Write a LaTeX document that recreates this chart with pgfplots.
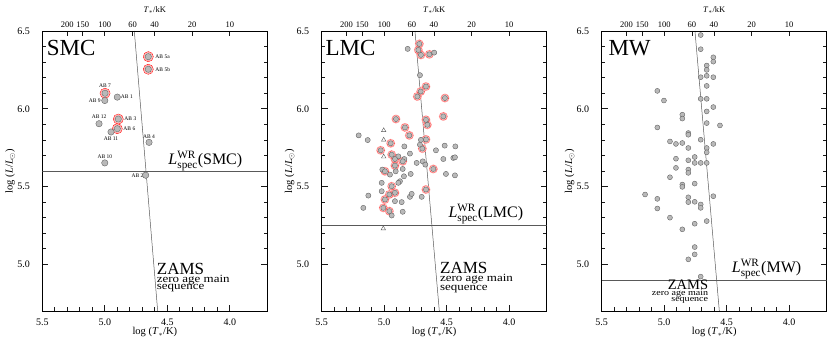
\documentclass[border=0pt]{standalone}
\usepackage{fontspec}
\setmainfont{Liberation Serif}
\usepackage{amsmath}
\usepackage{pgfplots}
\pgfplotsset{compat=1.18}
\usepackage{pgfplotstable}
\definecolor{tk}{RGB}{25,25,25}

% SMC stars (log T, log L)
\pgfplotstableread{
x y
4.652 6.335
4.652 6.254
4.998 6.100
5.000 6.053
4.900 6.075
4.892 5.934
5.046 5.904
4.900 5.872
4.950 5.851
4.646 5.784
5.000 5.652
4.673 5.573
}\smc
\pgfplotstableread{
x y
4.652 6.335
4.652 6.254
4.998 6.100
4.892 5.934
4.900 5.872
}\smcred

% LMC
\pgfplotstableread{
x y
4.812 6.385
4.600 6.361
4.714 6.216
5.204 5.829
5.132 5.799
4.839 5.758
4.706 5.800
4.714 5.769
4.586 5.733
4.516 5.763
4.431 5.758
4.887 5.694
4.839 5.677
4.794 5.712
4.740 5.652
4.692 5.662
4.671 5.641
4.527 5.677
4.447 5.684
4.434 5.688
4.852 5.613
5.015 5.609
4.954 5.577
4.908 5.598
4.842 5.566
4.788 5.581
4.506 5.581
4.434 5.572
5.020 5.524
4.874 5.534
4.887 5.524
5.020 5.470
5.127 5.442
4.794 5.434
4.780 5.453
4.700 5.434
4.914 5.406
4.860 5.400
5.167 5.363
4.852 5.338
4.940 5.314
}\lmcgray
\pgfplotstableread{
x y
4.719 6.417
4.727 6.378
4.706 6.346
4.639 6.350
4.666 6.143
4.708 6.111
4.735 6.079
4.514 6.069
4.906 5.934
4.666 5.929
4.655 5.897
4.527 5.951
4.834 5.880
4.799 5.829
4.948 5.778
4.666 5.803
4.695 5.744
5.028 5.733
4.940 5.705
4.914 5.677
4.852 5.662
4.607 5.613
4.914 5.635
4.994 5.598
4.940 5.502
4.959 5.449
4.914 5.460
4.666 5.481
4.994 5.417
5.007 5.363
4.959 5.342
}\lmcred
\pgfplotstableread{
x y
5.004 5.861
5.004 5.800
5.004 5.692
5.007 5.230
}\lmctri

% MW
\pgfplotstableread{
x y
4.708 6.474
4.708 6.383
4.607 6.331
4.607 6.303
4.660 6.278
4.660 6.250
4.708 6.203
4.660 6.212
4.607 6.203
4.660 6.147
5.055 6.115
5.002 6.053
4.708 6.064
4.660 6.064
4.607 6.011
4.660 5.983
4.855 5.962
4.855 5.937
4.660 5.908
4.554 5.893
5.055 5.880
4.807 5.844
4.807 5.833
4.708 5.801
4.954 5.790
4.906 5.774
4.855 5.780
4.607 5.774
4.807 5.748
4.660 5.748
4.660 5.720
4.756 5.690
4.906 5.679
4.807 5.669
4.756 5.652
4.708 5.652
4.660 5.652
4.906 5.620
4.807 5.609
4.807 5.588
4.954 5.560
4.756 5.519
4.855 5.513
4.855 5.498
5.153 5.449
4.607 5.438
5.055 5.421
4.807 5.431
4.807 5.400
4.756 5.402
4.708 5.385
4.708 5.363
5.055 5.359
4.954 5.300
4.660 5.278
4.756 5.261
4.855 5.225
4.756 5.111
4.756 5.064
4.807 5.032
4.708 4.921
}\mw

\pgfplotsset{
  hrd/.style={
    scale only axis, width=225pt, height=280pt,
    xmin=3.7, xmax=5.5, x dir=reverse,
    ymin=4.7, ymax=6.5,
    xtick={4.0,4.5,5.0,5.5}, ytick={5.0,5.5,6.0,6.5},
    minor tick num=4,
    xtick pos=left, ytick pos=both, yticklabel pos=left,
    tick align=inside,
    major tick length=6pt, minor tick length=3.5pt,
    axis line style={line width=0.8pt},
    tick style={tk, line width=0.7pt},
    minor tick style={tk, line width=0.6pt},
    ticklabel style={font=\fontsize{10}{12}\selectfont},
    xticklabel style={yshift=-4pt},
    yticklabel style={xshift=-9pt},
    /pgf/number format/.cd, fixed, fixed zerofill, precision=1, assume math mode=true, /pgfplots/.cd,
    xlabel={log (\textit{T}$_*$/K)},
    ylabel={log (\textit{L}/\textit{L}$_{\odot}$)},
    xlabel style={font=\fontsize{10.5}{12}\selectfont, at={([yshift=-21pt]axis description cs:0.5,0)}, anchor=center},
    ylabel style={font=\fontsize{10.5}{12}\selectfont, at={([xshift=-32pt]axis description cs:0,0.5)}, anchor=center},
  },
  toptemp/.style={
    scale only axis, width=225pt, height=280pt,
    xmin=3.7, xmax=5.5, x dir=reverse,
    ymin=4.7, ymax=6.5,
    hide y axis,
    axis x line*=top,
    axis line style={-, line width=0.8pt},
    xtick={5.30103,5.17609,5,4.77815,4.60206,4.30103,4},
    xticklabels={200,150,100,60,40,20,10},
    tick align=inside, major tick length=5pt,
    tick style={tk, line width=0.7pt},
    xticklabel style={font=\fontsize{8.5}{10}\selectfont},
    xlabel={\textit{T}$_*$/kK},
    xlabel style={font=\fontsize{8.5}{10}\selectfont, at={([yshift=21pt]axis description cs:0.5,1)}, anchor=center},
  },
  gpt/.style={only marks, mark=*, mark size=#1,
    mark options={fill=gray!55, draw=black!65, line width=0.35pt}},
}

\newcommand\zams[1]{\scalebox{1.18}[1]{#1}}

\begin{document}
\begin{tikzpicture}
\useasboundingbox (0,0) rectangle (831pt,351pt);

% ---------- SMC ----------
\begin{axis}[hrd, at={(42.3pt,40pt)}, anchor=south west]
\addplot[black!65, line width=0.5pt] coordinates {(3.7,5.6) (5.5,5.6)};
\addplot[black!65, line width=0.5pt] coordinates {(4.764,6.5) (4.577,4.7)};
\addplot[only marks, mark=o, mark size=5pt, mark options={draw=red, line width=0.5pt}] table {\smcred};
\addplot[only marks, mark=o, mark size=4.2pt, mark options={draw=red!35, line width=0.8pt}] table {\smcred};
\addplot[gpt=3.2pt] table {\smc};
\node[anchor=north west, inner sep=0, font=\fontsize{23}{24}\selectfont] at (axis cs:5.465,6.44) {SMC};
\begin{scope}[font=\fontsize{5.5}{6}\selectfont, inner sep=0]
\node[anchor=west] at (axis cs:4.652,6.335) [xshift=7pt] {AB 5a};
\node[anchor=west] at (axis cs:4.652,6.254) [xshift=7pt] {AB 5b};
\node[anchor=south] at (axis cs:4.998,6.100) [yshift=6pt] {AB 7};
\node[anchor=east] at (axis cs:5.000,6.053) [xshift=-4pt] {AB 9};
\node[anchor=west] at (axis cs:4.900,6.075) [xshift=3.5pt] {AB 1};
\node[anchor=west] at (axis cs:4.892,5.934) [xshift=6pt] {AB 3};
\node[anchor=south] at (axis cs:5.046,5.904) [yshift=4.5pt] {AB 12};
\node[anchor=west] at (axis cs:4.900,5.872) [xshift=6pt] {AB 6};
\node[anchor=north] at (axis cs:4.950,5.851) [yshift=-5pt] {AB 11};
\node[anchor=south] at (axis cs:4.646,5.784) [yshift=4pt] {AB 4};
\node[anchor=south] at (axis cs:5.000,5.652) [yshift=4pt] {AB 10};
\node[anchor=east] at (axis cs:4.673,5.573) [xshift=-2pt] {AB 2};
\end{scope}
\node[anchor=base west, inner sep=0, font=\fontsize{16}{18}\selectfont] at (axis cs:4.492,5.641) {\textit{L}$^{\text{WR}}_{\text{spec}}$(SMC)};
\node[anchor=base west, inner sep=0, font=\fontsize{17}{18}\selectfont] at (axis cs:4.585,4.936) {ZAMS};
\node[anchor=base west, inner sep=0, font=\fontsize{11}{12}\selectfont] at (axis cs:4.585,4.884) {\zams{zero age main}};
\node[anchor=base west, inner sep=0, font=\fontsize{11}{12}\selectfont] at (axis cs:4.585,4.836) {\zams{sequence}};
\end{axis}
\begin{axis}[toptemp, at={(42.3pt,40pt)}, anchor=south west]
\end{axis}

% ---------- LMC ----------
\begin{axis}[hrd, at={(321.7pt,40pt)}, anchor=south west]
\addplot[black!65, line width=0.5pt] coordinates {(3.7,5.25) (5.5,5.25)};
\addplot[black!65, line width=0.5pt] coordinates {(4.754,6.5) (4.559,4.7)};
\addplot[only marks, mark=o, mark size=3.8pt, mark options={draw=red!30, line width=1.3pt}] table {\lmcred};
\addplot[only marks, mark=o, mark size=3.8pt, mark options={draw=red, line width=0.4pt, densely dotted}] table {\lmcred};
\addplot[gpt=2.6pt] table {\lmcgray};
\addplot[gpt=2.6pt] table {\lmcred};
\addplot[only marks, mark=triangle, mark size=2.6pt, mark options={draw=black!65, line width=0.4pt}] table {\lmctri};
\node[anchor=north west, inner sep=0, font=\fontsize{23}{24}\selectfont] at (axis cs:5.47,6.44) {LMC};
\node[anchor=base west, inner sep=0, font=\fontsize{16}{18}\selectfont] at (axis cs:4.487,5.30) {\textit{L}$^{\text{WR}}_{\text{spec}}$(LMC)};
\node[anchor=base west, inner sep=0, font=\fontsize{17}{18}\selectfont] at (axis cs:4.554,4.94) {ZAMS};
\node[anchor=base west, inner sep=0, font=\fontsize{11}{12}\selectfont] at (axis cs:4.554,4.887) {\zams{zero age main}};
\node[anchor=base west, inner sep=0, font=\fontsize{11}{12}\selectfont] at (axis cs:4.554,4.834) {\zams{sequence}};
\end{axis}
\begin{axis}[toptemp, at={(321.7pt,40pt)}, anchor=south west]
\end{axis}

% ---------- MW ----------
\begin{axis}[hrd, at={(601.7pt,40pt)}, anchor=south west]
\addplot[black!65, line width=0.5pt] coordinates {(3.7,4.9) (5.5,4.9)};
\addplot[black!65, line width=0.5pt] coordinates {(4.754,6.5) (4.559,4.7)};
\addplot[gpt=2.5pt] table {\mw};
\node[anchor=north west, inner sep=0, font=\fontsize{23}{24}\selectfont] at (axis cs:5.447,6.44) {MW};
\node[anchor=base west, inner sep=0, font=\fontsize{16}{18}\selectfont] at (axis cs:4.46,4.947) {\textit{L}$^{\text{WR}}_{\text{spec}}$(MW)};
\node[anchor=base east, inner sep=0, font=\fontsize{14.5}{16}\selectfont] at (axis cs:4.647,4.840) {ZAMS};
\node[anchor=base east, inner sep=0, font=\fontsize{8.5}{9}\selectfont] at (axis cs:4.647,4.797) {\zams{zero age main}};
\node[anchor=base east, inner sep=0, font=\fontsize{8.5}{9}\selectfont] at (axis cs:4.647,4.760) {\zams{sequence}};
\end{axis}
\begin{axis}[toptemp, at={(601.7pt,40pt)}, anchor=south west]
\end{axis}
\end{tikzpicture}
\end{document}
